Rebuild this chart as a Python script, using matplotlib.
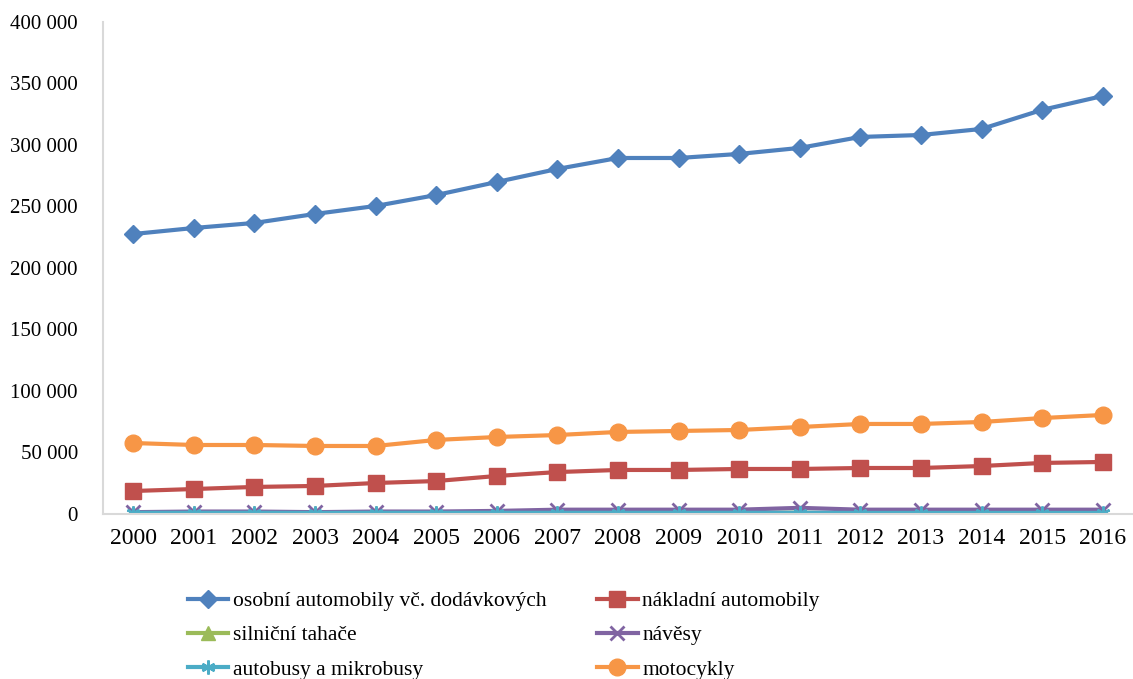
import matplotlib.pyplot as plt

# data
years = [str(y) for y in range(2000, 2017)]

osobni = [227600, 232500, 236600, 243900, 250400, 259300, 269900, 280500, 289400,
          289400, 292700, 297600, 306500, 308100, 313000, 328500, 339800]
nakladni = [18700, 20300, 22000, 22800, 25200, 26800, 30900, 34100, 35800,
            35800, 36600, 36600, 37400, 37400, 39000, 41500, 42300]
tahace = [1000, 1100, 1100, 900, 1000, 1000, 1100, 1200, 1100,
          1000, 1000, 1000, 500, 400, 400, 400, 400]
navesy = [1500, 2000, 2000, 1500, 2000, 2000, 2500, 3500, 3500,
          3500, 3500, 5000, 3500, 3500, 3500, 3500, 3500]
autobusy = [1000, 1000, 1000, 900, 1000, 1000, 1000, 1000, 1000,
            1000, 1000, 1000, 900, 900, 900, 900, 900]
motocykly = [57700, 56100, 56100, 55300, 55300, 60200, 62600, 64200, 66700,
             67500, 68300, 70700, 73200, 73200, 74800, 78000, 80500]

labels = ["osobní automobily vč. dodávkových", "nákladní automobily", "silniční tahače",
          "návěsy", "autobusy a mikrobusy", "motocykly"]

plt.rcParams['font.family'] = ['Liberation Serif', 'DejaVu Serif']

fig = plt.figure(figsize=(11.33, 6.79), dpi=100)
ax = fig.add_axes([0.0909, 0.243, 0.9091, 0.7247])

x = range(len(years))
lw = 3.0
h1, = ax.plot(x, osobni, color='#4F81BD', lw=lw, marker='D', ms=9)
h2, = ax.plot(x, nakladni, color='#C0504D', lw=lw, marker='s', ms=11)
h3, = ax.plot(x, tahace, color='#9BBB59', lw=lw, marker='^', ms=10)
h4, = ax.plot(x, navesy, color='#8064A2', lw=lw, marker='x', ms=10, mew=2)
h5, = ax.plot(x, autobusy, color='#4BACC6', lw=lw, marker=(6, 2, 0), ms=10, mew=1.8)
h6, = ax.plot(x, motocykly, color='#F79646', lw=lw, marker='o', ms=12)

ax.set_xlim(-0.5, len(years) - 0.5)
ax.set_ylim(0, 400000)
ax.set_yticks(range(0, 400001, 50000))
ax.set_yticklabels([f"{v:,}".replace(",", " ") for v in range(0, 400001, 50000)])
ax.set_xticks(list(x))
ax.set_xticklabels(years)
ax.tick_params(axis='both', length=0)
ax.tick_params(axis='y', pad=18, labelsize=15)
ax.tick_params(axis='x', pad=10, labelsize=17)

for s in ['top', 'right']:
    ax.spines[s].set_visible(False)
ax.spines['left'].set_color('#d9d9d9')
ax.spines['bottom'].set_color('#d9d9d9')
ax.spines['left'].set_linewidth(1.5)
ax.spines['bottom'].set_linewidth(1.5)

# order so that rows read like the original (matplotlib fills columns first)
handles = [h1, h3, h5, h2, h4, h6]
leg_labels = [labels[0], labels[2], labels[4], labels[1], labels[3], labels[5]]
fig.legend(handles, leg_labels, ncol=2, loc='upper left',
           bbox_to_anchor=(0.156, 0.145), frameon=False, fontsize=15.5,
           borderpad=0, handlelength=1.9, handletextpad=0.2,
           labelspacing=0.65, columnspacing=2.35)

plt.savefig('out.png', dpi=100)
